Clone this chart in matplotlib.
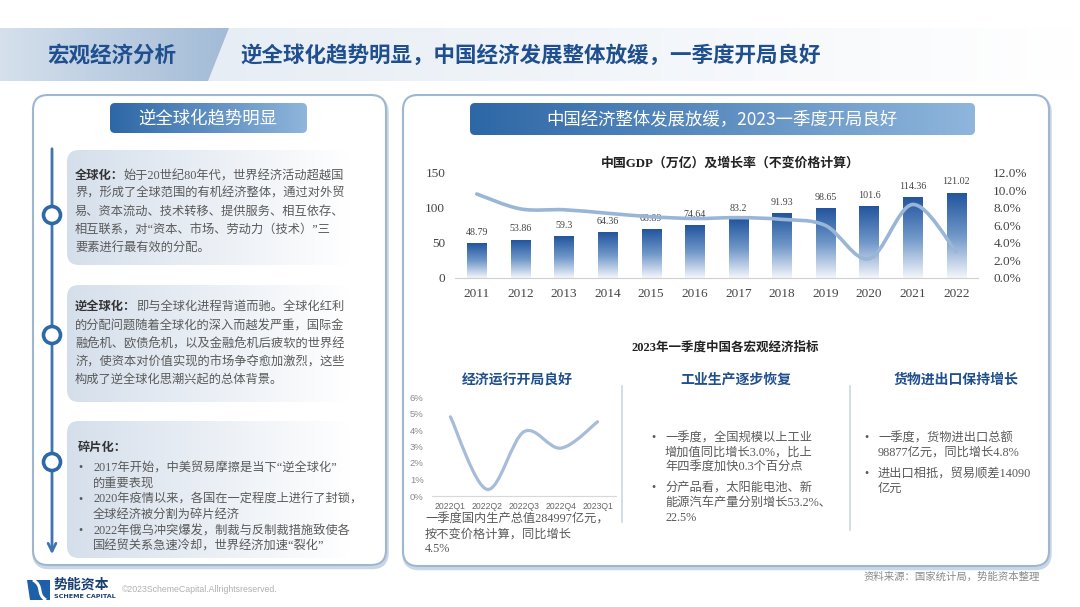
import matplotlib
matplotlib.use('Agg')
import matplotlib.pyplot as plt
import numpy as np
from matplotlib.patches import FancyBboxPatch, Rectangle, Polygon, Circle, PathPatch
from matplotlib.path import Path
from matplotlib.colors import LinearSegmentedColormap

plt.rcParams['font.family'] = ['Noto Sans CJK SC', 'DejaVu Sans']

# ---------------- data ----------------
years = [2011, 2012, 2013, 2014, 2015, 2016, 2017, 2018, 2019, 2020, 2021, 2022]
gdp = [48.79, 53.86, 59.3, 64.36, 68.89, 74.64, 83.2, 91.93, 98.65, 101.6, 114.36, 121.02]
growth = [9.6, 7.9, 7.8, 7.4, 7.0, 6.8, 6.9, 6.7, 6.0, 2.2, 8.4, 3.0]
gdp_ticks = [0, 50, 100, 150]
growth_ticks = [0, 2, 4, 6, 8, 10, 12]

quarters = ['2022Q1', '2022Q2', '2022Q3', '2022Q4', '2023Q1']
q_growth = [4.8, 0.4, 3.9, 2.9, 4.5]
q_ticks = [0, 1, 2, 3, 4, 5, 6]

W, H = 1080, 607
fig = plt.figure(figsize=(10.8, 6.07), dpi=100)
fig.patch.set_facecolor('white')
ax0 = fig.add_axes([0, 0, 1, 1])
ax0.set_xlim(0, W); ax0.set_ylim(H, 0); ax0.axis('off')

SERIF = ['Liberation Serif', 'Noto Sans CJK SC']
CJK = ['Noto Sans CJK SC', 'DejaVu Sans']


def grad(ax, x0, x1, y0, y1, c0, c1, clip=None, vertical=False, z=1):
    cmap = LinearSegmentedColormap.from_list('g', [c0, c1])
    g = np.linspace(0, 1, 256)
    arr = g.reshape(-1, 1) if vertical else g.reshape(1, -1)
    im = ax.imshow(arr, cmap=cmap, extent=(x0, x1, y1, y0), aspect='auto',
                   origin='upper', zorder=z, interpolation='bicubic')
    if clip is not None:
        im.set_clip_path(clip)
    return im


def rbox(x, y, w, h, r, **kw):
    return FancyBboxPatch((x, y), w, h, boxstyle=f'round,pad=0,rounding_size={r}', **kw)

# ---------------- header band ----------------
rect_r = Rectangle((0, 28), W, 53, facecolor='none', edgecolor='none')
ax0.add_patch(rect_r)
grad(ax0, 0, W, 28, 81, '#e1e9f2', '#ffffff', clip=rect_r, z=1)
poly_l = Polygon([(0, 28), (229, 28), (208, 81), (0, 81)], closed=True,
                 facecolor='none', edgecolor='none')
ax0.add_patch(poly_l)
grad(ax0, 0, 229, 28, 81, '#d5e0ec', '#a3bbd7', clip=poly_l, z=2)
ax0.text(112, 55, '宏观经济分析', fontsize=15.5, fontweight='bold', color='#1f4f8e',
         ha='center', va='center', family=CJK, zorder=5)
ax0.text(240, 55, '逆全球化趋势明显，中国经济发展整体放缓，一季度开局良好', fontsize=15.5,
         fontweight='bold', color='#1f4f8e', ha='left', va='center', family=CJK, zorder=5)

# ---------------- panels ----------------
for (px, py, pw, ph) in [(33, 95, 353, 470), (403, 95, 646, 471)]:
    ax0.add_patch(rbox(px + 1, py + 2.5, pw, ph, 15, facecolor='none', edgecolor='#c9d6e5',
                       lw=2.5, zorder=1.5))
    ax0.add_patch(rbox(px, py, pw, ph, 15, facecolor='white', edgecolor='#9fb6d1', lw=1.5,
                       zorder=2))

# pills
p1 = rbox(110, 103, 197, 30, 5, facecolor='none', edgecolor='none')
ax0.add_patch(p1)
grad(ax0, 110, 307, 103, 133, '#2d67a6', '#8fb6dc', clip=p1, z=3)
ax0.text(208, 118.5, '逆全球化趋势明显', fontsize=12.5, color='white', ha='center', va='center',
         family=CJK, zorder=5)
p2 = rbox(470, 103, 505, 32, 5, facecolor='none', edgecolor='none')
ax0.add_patch(p2)
grad(ax0, 470, 975, 103, 135, '#2d67a6', '#8fb6dc', clip=p2, z=3)
ax0.text(722, 119, '中国经济整体发展放缓，2023一季度开局良好', fontsize=12.5, color='white',
         ha='center', va='center', family=CJK, zorder=5)

# ---------------- left text boxes ----------------
for (y0, y1) in [(150, 265), (285, 402), (421, 558)]:
    b = rbox(67, y0, 283, y1 - y0, 12, facecolor='none', edgecolor='none')
    ax0.add_patch(b)
    grad(ax0, 67, 350, y0, y1, '#d5dfeb', '#ffffff', clip=b, z=3)

# timeline
ax0.annotate('', xy=(52, 557), xytext=(52, 146),
             arrowprops=dict(arrowstyle='->', color='#3f74b0', lw=2, mutation_scale=14),
             zorder=4)
for cy in [215, 335, 462]:
    ax0.add_patch(Circle((52, cy), 8.5, facecolor='white', edgecolor='#2e69a6', lw=2.6, zorder=5))

renderer = fig.canvas.get_renderer()
TXT = '#5a5a5a'
FS = 8.8


def rich(x, y, bold, rest):
    t = ax0.text(x, y, bold, fontsize=FS, fontweight='bold', color='#333333', va='center',
                 ha='left', family=SERIF, zorder=6)
    bb = t.get_window_extent(renderer)
    ax0.text(x + bb.width, y, rest, fontsize=FS, color=TXT, va='center', ha='left',
             family=SERIF, zorder=6)


def line(x, y, s, fs=FS, color=TXT, ha='left'):
    ax0.text(x, y, s, fontsize=fs, color=color, va='center', ha=ha, family=SERIF, zorder=6)

rich(75, 176, '全球化：', '始于20世纪80年代，世界经济活动超越国')
line(75, 194, '界，形成了全球范围的有机经济整体，通过对外贸')
line(75, 212, '易、资本流动、技术转移、提供服务、相互依存、')
line(75, 230, '相互联系，对“资本、市场、劳动力（技术）”三')
line(75, 248, '要素进行最有效的分配。')

rich(75, 307, '逆全球化：', '即与全球化进程背道而驰。全球化红利')
line(75, 326, '的分配问题随着全球化的深入而越发严重，国际金')
line(75, 344, '融危机、欧债危机，以及金融危机后疲软的世界经')
line(75, 362, '济，使资本对价值实现的市场争夺愈加激烈，这些')
line(75, 380, '构成了逆全球化思潮兴起的总体背景。')

rich(78, 448, '碎片化：', '')
b3 = [('2017年开始，中美贸易摩擦是当下“逆全球化”', '的重要表现'),
      ('2020年疫情以来，各国在一定程度上进行了封锁，', '全球经济被分割为碎片经济'),
      ('2022年俄乌冲突爆发，制裁与反制裁措施致使各', '国经贸关系急速冷却，世界经济加速“裂化”')]
for i, (a, b) in enumerate(b3):
    yy = 468 + i * 31.5
    line(78, yy, '•')
    line(93, yy, a)
    line(93, yy + 15.5, b)

# ---------------- GDP chart ----------------
axg = fig.add_axes([455 / W, 1 - 278 / H, 523 / W, 105 / H])
axg.patch.set_alpha(0)
xpos = np.arange(len(years))
bars = axg.bar(xpos, gdp, width=0.44, color='none', edgecolor='none', zorder=2)
barcmap = LinearSegmentedColormap.from_list('b', ['#22559e', '#6f97c8', '#f3f6fb'])
for bar, v in zip(bars, gdp):
    axg.imshow(np.linspace(0, 1, 256).reshape(-1, 1), cmap=barcmap,
               extent=(bar.get_x(), bar.get_x() + bar.get_width(), 0, v),
               aspect='auto', origin='upper', zorder=2, interpolation='bicubic')
    axg.annotate(f'{v:g}', (bar.get_x() + bar.get_width() / 2, v), xytext=(0, 5),
                 textcoords='offset points', ha='center', va='bottom', fontsize=7.2,
                 color='#444444', family=SERIF, zorder=5)
axg.set_xlim(-0.5, 11.5)
axg.set_ylim(0, 150)
axg.set_yticks(gdp_ticks)
axg.set_yticklabels([str(t) for t in gdp_ticks], family=SERIF, fontsize=9.5, color='#444444')
axg.set_xticks(xpos)
axg.set_xticklabels([str(y) for y in years], family=SERIF, fontsize=9.5, color='#444444')
axg.tick_params(length=0, axis='y', pad=7)
axg.tick_params(length=0, axis='x', pad=7)
for s in ['top', 'right', 'left']:
    axg.spines[s].set_visible(False)
axg.spines['bottom'].set_color('#d0d0d0')

axr = axg.twinx()
axr.set_ylim(0, 12)
axr.set_yticks(growth_ticks)
axr.set_yticklabels([f'{t:.1f}%' for t in growth_ticks], family=SERIF, fontsize=9.5,
                    color='#444444')
axr.tick_params(length=0, pad=11)
for s in axr.spines.values():
    s.set_visible(False)


def smooth_path(xs, ys):
    pts = np.column_stack([xs, ys]).astype(float)
    n = len(pts)
    verts = [pts[0]]
    codes = [Path.MOVETO]
    for i in range(n - 1):
        p0 = pts[i - 1] if i > 0 else pts[i]
        p1 = pts[i]
        p2 = pts[i + 1]
        p3 = pts[i + 2] if i + 2 < n else pts[i + 1]
        c1 = p1 + (p2 - p0) / 6.0
        c2 = p2 - (p3 - p1) / 6.0
        verts += [c1, c2, p2]
        codes += [Path.CURVE4] * 3
    return Path(verts, codes)

axr.add_patch(PathPatch(smooth_path(xpos, growth), facecolor='none', edgecolor='#9ab6d6',
                        lw=2.6, zorder=4, capstyle='round'))

ax0.text(730, 163, '中国GDP（万亿）及增长率（不变价格计算）', fontsize=9.3, fontweight='bold',
         color='#222222', ha='center', va='center', family=SERIF, zorder=6)

# ---------------- indicators ----------------
ax0.text(725, 348, '2023年一季度中国各宏观经济指标', fontsize=9, fontweight='bold',
         color='#222222', ha='center', va='center', family=SERIF, zorder=6)
for cx, s in [(517, '经济运行开局良好'), (736, '工业生产逐步恢复'), (956, '货物进出口保持增长')]:
    ax0.text(cx, 380, s, fontsize=10, fontweight='bold', color='#1f4f8e', ha='center',
             va='center', family=CJK, zorder=6)
for sx, y0, y1 in [(622, 386, 522), (850, 386, 530)]:
    ax0.plot([sx, sx], [y0, y1], color='#c9d6e6', lw=1.2, zorder=4)

axq = fig.add_axes([432 / W, 1 - 496 / H, 184 / W, 99 / H])
axq.patch.set_alpha(0)
qx = np.arange(len(quarters))
axq.add_patch(PathPatch(smooth_path(qx, q_growth), facecolor='none', edgecolor='#a7bcd8',
                        lw=2.3, zorder=4, capstyle='round'))
axq.set_xlim(-0.5, 4.5)
axq.set_ylim(0, 6)
axq.set_yticks(q_ticks)
axq.set_yticklabels([f'{t}%' for t in q_ticks], family=['Liberation Sans'], fontsize=6.8,
                    color='#8a8a8a')
axq.set_xticks(qx)
axq.set_xticklabels(quarters, family=['Liberation Sans'], fontsize=6.2, color='#666666')
axq.tick_params(length=0, axis='y', pad=6)
axq.tick_params(length=0, axis='x', pad=4)
for s in ['top', 'right', 'left']:
    axq.spines[s].set_visible(False)
axq.spines['bottom'].set_color('#d8d8d8')

line(425, 519, '一季度国内生产总值284997亿元，', fs=8.8)
line(425, 534.5, '按不变价格计算，同比增长', fs=8.8)
line(425, 549.5, '4.5%', fs=8.8)

col2 = [['一季度，全国规模以上工业', '增加值同比增长3.0%，比上', '年四季度加快0.3个百分点'],
        ['分产品看，太阳能电池、新', '能源汽车产量分别增长53.2%、', '22.5%']]
yy = 438
for grp in col2:
    line(651, yy, '•')
    for j, s in enumerate(grp):
        line(665, yy + j * 15, s)
    yy += len(grp) * 15 + 5
col3 = [['一季度，货物进出口总额', '98877亿元，同比增长4.8%'],
        ['进出口相抵，贸易顺差14090', '亿元']]
yy = 438
for grp in col3:
    line(864, yy, '•')
    for j, s in enumerate(grp):
        line(878, yy + j * 14.5, s)
    yy += len(grp) * 14.5 + 7

# ---------------- footer ----------------
ax0.text(1040, 577, '资料来源：国家统计局，势能资本整理', fontsize=7.5, color='#8a8a8a',
         ha='right', va='center', family=SERIF, zorder=6)
ax0.add_patch(Polygon([(27, 580), (50, 580), (50, 600), (30, 600)], closed=True,
                      facecolor='#1d5fa8', edgecolor='none', zorder=5))
road = Path([(33, 580), (44, 586), (36, 594), (46, 600)],
            [Path.MOVETO, Path.CURVE4, Path.CURVE4, Path.CURVE4])
ax0.add_patch(PathPatch(road, facecolor='none', edgecolor='white', lw=2.2, zorder=6))
ax0.text(54, 585, '势能资本', fontsize=10, fontweight='bold', color='#1a3f73', ha='left',
         va='center', family=CJK, zorder=6)
ax0.text(54, 596.5, 'SCHEME CAPITAL', fontsize=4.6, fontweight='bold', color='#1a3f73',
         ha='left', va='center', family=['DejaVu Sans'], zorder=6)
ax0.text(122, 589, '©2023SchemeCapital.Allrightsreserved.', fontsize=6.3, color='#b0b0b0',
         ha='left', va='center', family=['Liberation Sans'], zorder=6)

ax0.set_xlim(0, W); ax0.set_ylim(H, 0)
fig.savefig('out.png', dpi=100, facecolor='white')
